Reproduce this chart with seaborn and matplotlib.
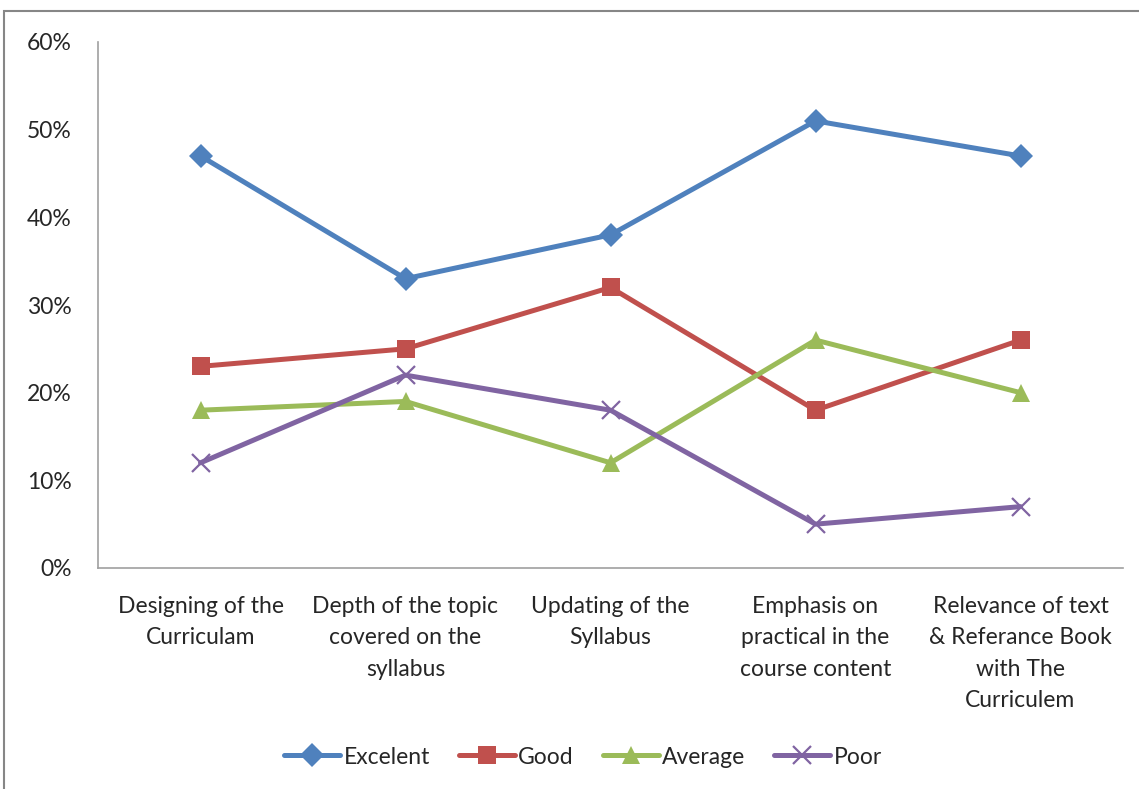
# -*- coding: utf-8 -*-

import numpy as np
import pandas as pd
import matplotlib
matplotlib.use('Agg')
import matplotlib.pyplot as plt
import seaborn as sns
from matplotlib.patches import Rectangle
from matplotlib.ticker import PercentFormatter

categories = ['Designing of the\nCurriculam',
              'Depth of the topic\ncovered on the\nsyllabus',
              'Updating of the\nSyllabus',
              'Emphasis on\npractical in the\ncourse content',
              'Relevance of text\n& Referance Book\nwith The\nCurriculem']
excelent = [47, 33, 38, 51, 47]
good = [23, 25, 32, 18, 26]
average = [18, 19, 12, 26, 20]
poor = [12, 22, 18, 5, 7]

series_names = ['Excelent', 'Good', 'Average', 'Poor']
colors = ['#4F81BD', '#C0504D', '#9BBB59', '#8064A2']
markers = ['D', 's', '^', 'x']

rows = []
for name, vals in zip(series_names, [excelent, good, average, poor]):
    for i, v in enumerate(vals):
        rows.append({'pos': i, 'value': v, 'series': name})
df = pd.DataFrame(rows)

sns.set_style('white')
plt.rcParams['font.family'] = ['Lato', 'DejaVu Sans']

fig = plt.figure(figsize=(11.39, 7.89), dpi=100)
ax = fig.add_axes([98/1139, 1-568/789, (1123-98)/1139, (568-42)/789])

sizes = {'D': 12, 's': 12.5, '^': 13, 'x': 13}
for name, col, mk in zip(series_names, colors, markers):
    sub = df[df['series'] == name]
    sns.lineplot(data=sub, x='pos', y='value', ax=ax, color=col, lw=3.6,
                 marker=mk, markersize=sizes[mk],
                 markeredgewidth=1.6 if mk == 'x' else 0,
                 markeredgecolor=col, label=name)

ax.set_xlim(-0.5, 4.5)
ax.set_ylim(0, 60)
ax.set_yticks(range(0, 61, 10))
ax.yaxis.set_major_formatter(PercentFormatter(decimals=0))
ax.set_xticks(range(5))
ax.set_xticklabels(categories, fontsize=16.5, linespacing=1.62, va='top')
ax.tick_params(axis='y', labelsize=16.5, length=0, pad=19)
ax.tick_params(axis='x', length=0, pad=20)
ax.set_xlabel('')
ax.set_ylabel('')
for s in ['top', 'right']:
    ax.spines[s].set_visible(False)
for s in ['left', 'bottom']:
    ax.spines[s].set_color('#A0A0A0')
    ax.spines[s].set_linewidth(1.2)

leg = ax.legend(loc='center', bbox_to_anchor=((583-98)/1025, (568-757)/526),
                ncol=4, frameon=False, fontsize=16.5, handlelength=2.45,
                handletextpad=0.15, columnspacing=1.25)

fig.patches.append(Rectangle((4/1139, -0.05), 1.1, 1-11/789+0.05,
                             transform=fig.transFigure, fill=False,
                             edgecolor='#868686', lw=1.5))

fig.savefig('out.png', dpi=100)
